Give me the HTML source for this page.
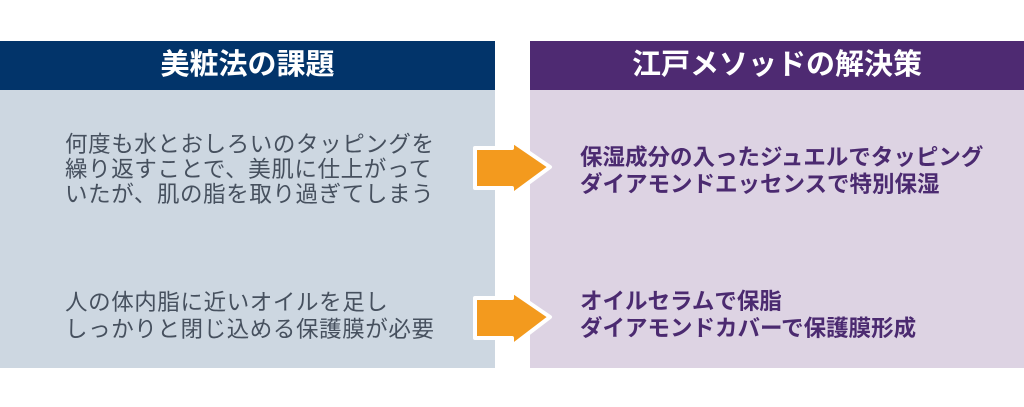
<!DOCTYPE html>
<html><head><meta charset="utf-8"><style>
body{margin:0;width:1024px;height:407px;background:#fff;position:relative;overflow:hidden;font-family:"Liberation Sans","Noto Sans CJK JP",sans-serif}
.p{position:absolute}
.h{color:#fff;font-weight:bold;font-size:29px;text-align:center;line-height:49px}
.t{position:absolute;font-size:22.5px;color:#46505e;white-space:nowrap;letter-spacing:0.6px}
.r{position:absolute;font-size:22.5px;line-height:27px;color:#4b2a70;font-weight:bold;white-space:nowrap}
</style></head><body>
<div class="p h" style="left:0;top:41px;width:495px;height:49px;background:#02346a">美粧法の課題</div>
<div class="p" style="left:0;top:90px;width:495px;height:278px;background:#cdd7e1"></div>
<div class="p h" style="left:530px;top:41px;width:494px;height:49px;background:#4e2a72">江戸メソッドの解決策</div>
<div class="p" style="left:530px;top:90px;width:494px;height:278px;background:#ddd3e3"></div>
<div class="t" style="left:65px;top:132px;line-height:25px">何度も水とおしろいのタッピングを<br>繰り返すことで、美肌に仕上がって<br>いたが、肌の脂を取り過ぎてしまう</div>
<div class="t" style="left:65px;top:289px;line-height:27px">人の体内脂に近いオイルを足し<br>しっかりと閉じ込める保護膜が必要</div>
<div class="r" style="left:580px;top:144px">保湿成分の入ったジュエルでタッピング<br>ダイアモンドエッセンスで特別保湿</div>
<div class="r" style="left:580px;top:288px">オイルセラムで保脂<br>ダイアモンドカバーで保護膜形成</div>
<svg class="p" style="left:0;top:0" width="1024" height="407">
<g fill="#f39a1e" stroke="#fff" stroke-width="4" stroke-linejoin="round">
<polygon points="475,148 512,148 512,141 550,167 512,195 512,188 475,188"/>
<polygon points="475,298 512,298 512,291 550,317 512,346 512,338 475,338"/>
</g></svg>
</body></html>
